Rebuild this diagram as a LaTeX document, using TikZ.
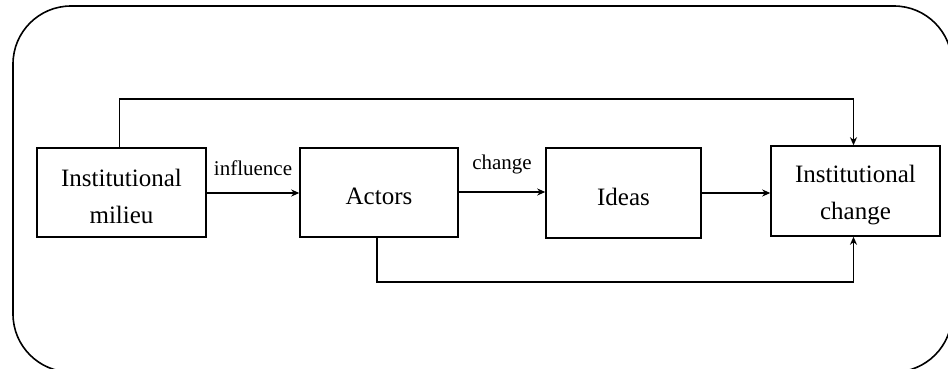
\documentclass[tikz,border=0pt]{standalone}
\usepackage{fontspec}
\setmainfont{Liberation Serif}
\usetikzlibrary{arrows.meta}
\newcommand{\topstrut}{\rule{0pt}{25pt}}
\begin{document}
\begin{tikzpicture}[x=1pt,y=-1pt,
  boxnode/.style={draw, line width=1.5pt, align=center, inner sep=0pt,
    font=\fontsize{25}{37}\selectfont},
  lbl/.style={font=\fontsize{21}{25}\selectfont, inner sep=0pt},
  arr/.style={-{Stealth[length=8pt,width=7pt,inset=2.5pt]}, line width=1.6pt}]
\useasboundingbox (0,0) rectangle (948,368);
\begin{scope}
\clip (0,0) rectangle (948,368);
\draw[line width=1.6pt, rounded corners=58pt] (13,6) rectangle (952,372);
\end{scope}
\node[boxnode, minimum width=169pt, minimum height=89pt] (m) at (121.5,192.5) {\topstrut Institutional\\milieu};
\node[boxnode, minimum width=158pt, minimum height=89pt] (a) at (379,192.5) {\topstrut Actors};
\node[boxnode, minimum width=155pt, minimum height=90pt] (i) at (623.5,193) {\topstrut Ideas};
\node[boxnode, minimum width=169pt, minimum height=90pt] (c) at (855.5,191) {\topstrut Institutional\\change};
\draw[arr] (m.east |- 0,193) -- node[lbl, above=17pt] {influence} (a.west |- 0,193);
\draw[arr] (a.east |- 0,192) -- node[lbl, above=17pt] {change} (i.west |- 0,192);
\draw[arr] (i.east |- 0,193) -- (c.west |- 0,193);
\draw[arr] ([xshift=-2pt]m.north) -- ++(0,-48) coordinate (t1) -| ([xshift=-2pt]c.north);
\draw[arr] ([xshift=-2pt]a.south) -- ++(0,44) coordinate (b1) -| ([xshift=-2pt]c.south);
\end{tikzpicture}
\end{document}
